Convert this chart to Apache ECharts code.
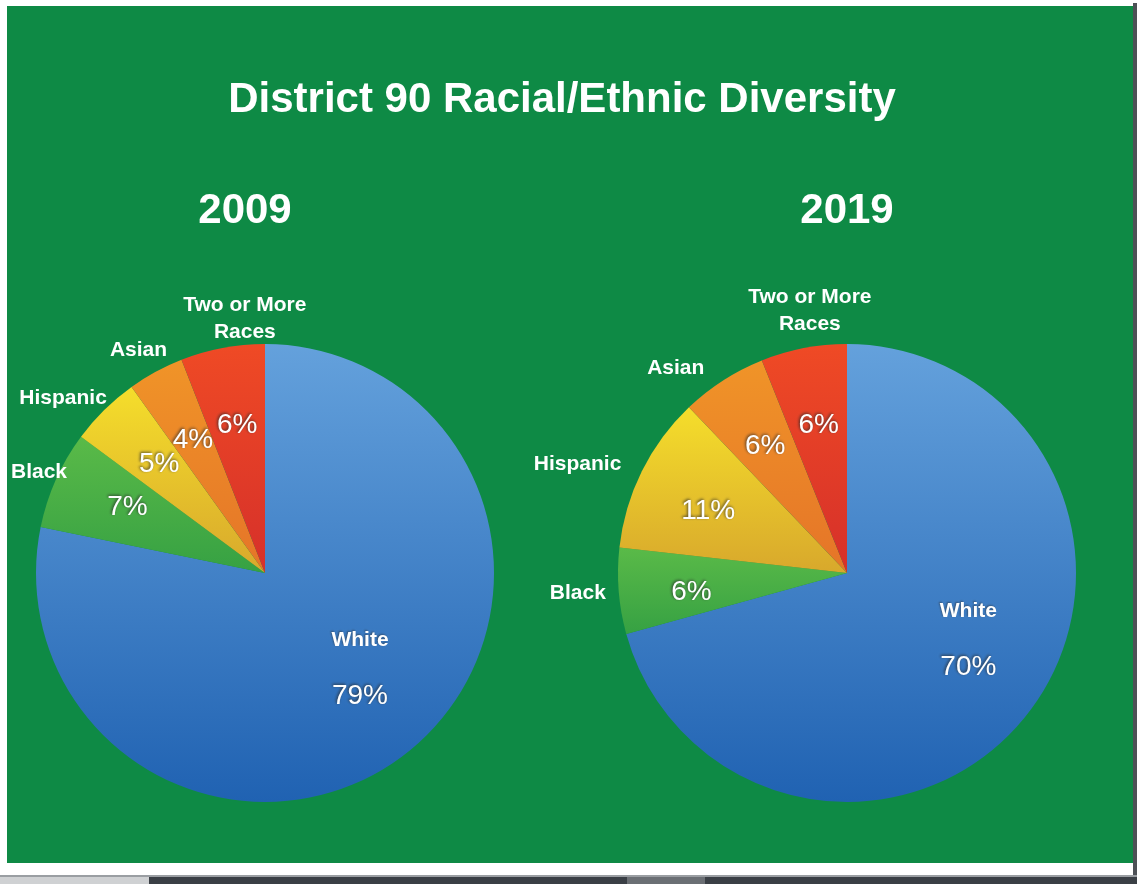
<!DOCTYPE html>
<html>
<head>
<meta charset="utf-8">
<title>District 90 Racial/Ethnic Diversity</title>
<script src="https://cdn.jsdelivr.net/npm/echarts@6/dist/echarts.min.js"></script>
<style>
html, body { margin: 0; padding: 0; background: #fff; }
#main { width: 1137px; height: 884px; }
</style>
</head>
<body>
<div id="main"></div>
<script>
// data
var groups = ['White', 'Black', 'Hispanic', 'Asian', 'Two or More\nRaces'];
var years = ['2009', '2019'];
var share2009 = [79, 7, 5, 4, 6];
var share2019 = [70, 6, 11, 6, 6];

// slice colours (top -> bottom gradient)
var sliceColors = [
    ['#64a1dc', '#2062b2'],
    ['#5aba48', '#36a143'],
    ['#f5de2b', '#d8a82c'],
    ['#f09428', '#e57428'],
    ['#ef4a25', '#d6302a']
];

// small hand nudges for the labels, as in the original slide
var nameNudge = {
    '2009': [[0, 0], [16, 7], [-16, 14], [0, 10], [29, 6]],
    '2019': [[0, 0], [-5, -1], [-32, 9], [-28, 18], [13, -2]]
};
var pctNudge = {
    '2009': [[-3, -25], [4, -3], [3, 2], [2, 3], [1, 5]],
    '2019': [[-2, -28], [-1, 7], [0, 7], [2, 4], [1, 4]]
};

var centers = { '2009': [265, 573], '2019': [847, 573] };
var R = 229;
var FONT = 'Liberation Sans, Arial, sans-serif';

function sliceData(values) {
    return values.map(function (v, i) {
        return {
            name: groups[i],
            value: v,
            itemStyle: {
                color: new echarts.graphic.LinearGradient(0, 0, 0, 1, [
                    { offset: 0, color: sliceColors[i][0] },
                    { offset: 1, color: sliceColors[i][1] }
                ])
            }
        };
    });
}

function ringData(values, withNames) {
    return values.map(function (v, i) {
        var d = { name: groups[i], value: v };
        if (withNames && i === 0) d.label = { show: false };
        return d;
    });
}

function buildSeries(year, values) {
    var c = centers[year];
    return [
        {
            type: 'pie',
            center: c,
            radius: [0, R],
            startAngle: 90,
            clockwise: true,
            silent: true,
            avoidLabelOverlap: false,
            label: { show: false },
            labelLine: { show: false },
            itemStyle: { borderWidth: 0 },
            data: sliceData(values)
        },
        {
            // percentages
            type: 'pie',
            center: c,
            radius: [75, R],
            startAngle: 90,
            clockwise: true,
            silent: true,
            avoidLabelOverlap: false,
            itemStyle: { color: 'transparent', borderWidth: 0 },
            label: {
                show: true,
                position: 'inside',
                color: '#fff',
                fontFamily: FONT,
                fontSize: 28,
                textShadowColor: 'rgba(40,40,40,0.8)',
                textShadowBlur: 3,
                textShadowOffsetX: -1,
                textShadowOffsetY: -1,
                formatter: function (p) {
                    if (p.dataIndex === 0) {
                        return '{n|' + p.name + '}\n{p|' + p.value + '%}';
                    }
                    return p.value + '%';
                },
                rich: {
                    n: {
                        color: '#fff', fontWeight: 'bold', fontSize: 21, lineHeight: 56,
                        fontFamily: FONT,
                        textShadowColor: 'rgba(40,40,40,0.5)', textShadowBlur: 2
                    },
                    p: {
                        color: '#fff', fontSize: 28, lineHeight: 56,
                        fontFamily: FONT,
                        textShadowColor: 'rgba(40,40,40,0.8)', textShadowBlur: 3,
                        textShadowOffsetX: -1, textShadowOffsetY: -1
                    }
                }
            },
            labelLine: { show: false },
            labelLayout: function (p) {
                var n = pctNudge[year][p.dataIndex];
                return { dx: n[0], dy: n[1] };
            },
            data: ringData(values, false)
        },
        {
            // group names outside the pie
            type: 'pie',
            center: c,
            radius: [R, 295],
            startAngle: 90,
            clockwise: true,
            silent: true,
            avoidLabelOverlap: false,
            itemStyle: { color: 'transparent', borderWidth: 0 },
            label: {
                show: true,
                position: 'inside',
                color: '#fff',
                fontFamily: FONT,
                fontWeight: 'bold',
                fontSize: 21,
                lineHeight: 27,
                align: 'center',
                formatter: '{b}'
            },
            labelLine: { show: false },
            labelLayout: function (p) {
                var n = nameNudge[year][p.dataIndex];
                return { dx: n[0], dy: n[1] };
            },
            data: ringData(values, true)
        }
    ];
}

var chart = echarts.init(document.getElementById('main'));

var option = {
    backgroundColor: '#fff',
    animation: false,
    graphic: [
        { type: 'rect', z: -10, shape: { x: 7, y: 6, width: 1126, height: 857 }, style: { fill: '#0e8a45' } },
        { type: 'rect', z: -10, shape: { x: 1133, y: 3, width: 4, height: 872 }, style: { fill: '#4d5156' } },
        { type: 'rect', z: -10, shape: { x: 0, y: 875, width: 1137, height: 2 }, style: { fill: '#9a9ea2' } },
        { type: 'rect', z: -10, shape: { x: 0, y: 877, width: 149, height: 7 }, style: { fill: '#cfd1d3' } },
        { type: 'rect', z: -10, shape: { x: 149, y: 877, width: 478, height: 7 }, style: { fill: '#3a3f45' } },
        { type: 'rect', z: -10, shape: { x: 627, y: 877, width: 78, height: 7 }, style: { fill: '#6b6f74' } },
        { type: 'rect', z: -10, shape: { x: 705, y: 877, width: 432, height: 7 }, style: { fill: '#3a3f45' } }
    ],
    title: [
        {
            text: 'District 90 Racial/Ethnic Diversity',
            left: 557, top: 74, textAlign: 'center',
            textStyle: { color: '#fff', fontSize: 42, fontWeight: 'bold', fontFamily: FONT }
        },
        {
            text: years[0],
            left: 240, top: 185, textAlign: 'center',
            textStyle: { color: '#fff', fontSize: 42, fontWeight: 'bold', fontFamily: FONT }
        },
        {
            text: years[1],
            left: 842, top: 185, textAlign: 'center',
            textStyle: { color: '#fff', fontSize: 42, fontWeight: 'bold', fontFamily: FONT }
        }
    ],
    series: buildSeries('2009', share2009).concat(buildSeries('2019', share2019))
};

chart.setOption(option);
</script>
</body>
</html>
